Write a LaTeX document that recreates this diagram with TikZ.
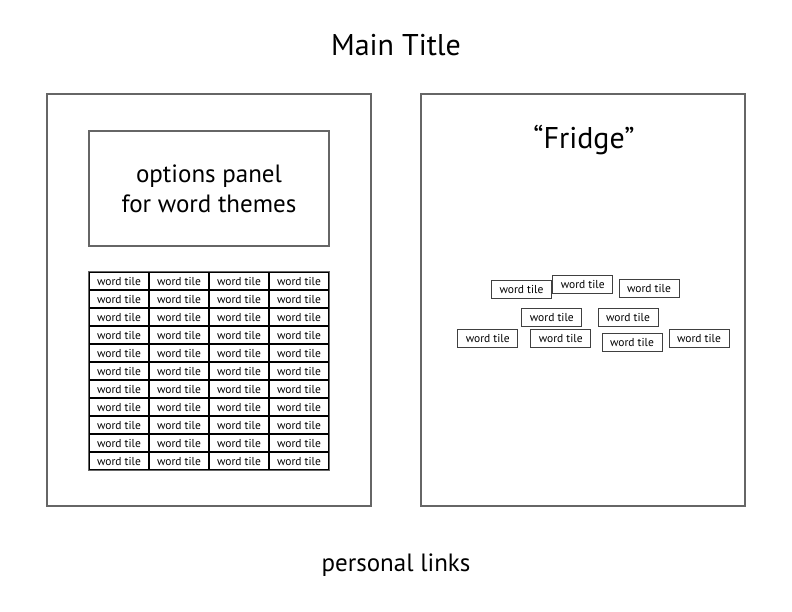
\documentclass[tikz,border=0pt]{standalone}
\usepackage{fontspec}
\setmainfont{PT Sans}
\begin{document}
\begin{tikzpicture}[x=1bp,y=-1bp,
  panel/.style={draw=black!60,line width=1.2bp},
  tile/.style={draw=black!75,line width=1bp,minimum width=60bp,minimum height=18bp,inner sep=0pt,font=\fontsize{11.5bp}{13bp}\selectfont},
  gtile/.style={draw=black,line width=1.1bp,minimum width=60bp,minimum height=18bp,inner sep=0pt,font=\fontsize{11.5bp}{13bp}\selectfont},
  bigtext/.style={font=\fontsize{30bp}{34bp}\selectfont},
  midtext/.style={font=\fontsize{25bp}{30bp}\selectfont,align=center}]
\useasboundingbox (0,0) rectangle (792,612);
\node[bigtext] (title) at (396,45) {Main Title};
\node[panel,minimum width=324bp,minimum height=412bp,inner sep=0pt] (left) at (209,300) {};
\node[panel,minimum width=324bp,minimum height=412bp,inner sep=0pt] (right) at (583,300) {};
\node[panel,minimum width=240bp,minimum height=115bp,inner sep=0pt] (options) at (209,188.5) {};
\node[midtext] (optionstext) at (209,189) {options panel\\for word themes};
\foreach \r in {0,...,10} {
  \foreach \c in {0,...,3} {
    \node[gtile] (g\r-\c) at (119+60*\c,281+18*\r) {word tile};
  }
}
\draw[draw=black!60,line width=1.1bp] (g0-0.north west) rectangle (g10-3.south east);
\node[bigtext] (fridge) at (584,140) {“Fridge”};
\node[tile] (f1) at (521.5,289.5) {word tile};
\node[tile] (f2) at (582.7,284) {word tile};
\node[tile] (f3) at (649,288.7) {word tile};
\node[tile] (f4) at (551.8,317) {word tile};
\node[tile] (f5) at (628,317) {word tile};
\node[tile] (f6) at (487.7,338.5) {word tile};
\node[tile] (f7) at (560.7,338) {word tile};
\node[tile] (f8) at (632,342.7) {word tile};
\node[tile] (f9) at (699,338) {word tile};
\node[midtext] (links) at (396,565) {personal links};
\end{tikzpicture}
\end{document}
